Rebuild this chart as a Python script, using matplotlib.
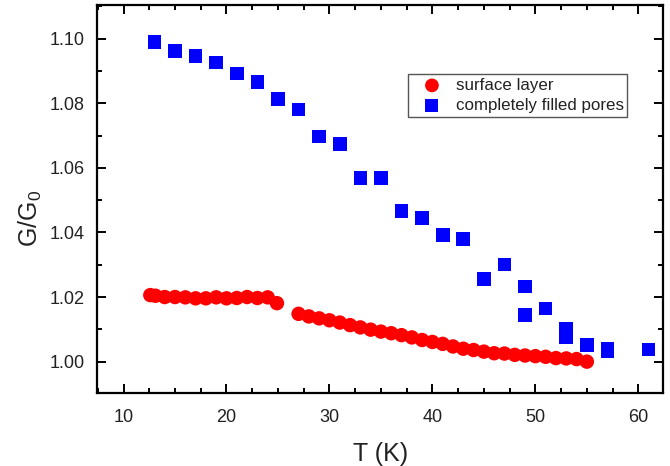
import numpy as np
import matplotlib
matplotlib.use("Agg")
import matplotlib.pyplot as plt
from matplotlib.ticker import MultipleLocator

plt.rcParams['font.family'] = ['Liberation Sans', 'DejaVu Sans']
plt.rcParams['mathtext.fontset'] = 'custom'
plt.rcParams['mathtext.rm'] = 'Liberation Sans'
plt.rcParams['mathtext.it'] = 'Liberation Sans'

# surface layer (red circles)
t_surface = [12.6, 13.1, 14, 15, 16, 17, 18, 19, 20, 21, 22, 23, 24, 24.9,
             27, 28, 29, 30, 31, 32, 33, 34, 35, 36, 37, 38, 39, 40, 41,
             42, 43, 44, 45, 46, 47, 48, 49, 50, 51, 52, 53, 54, 55]
g_surface = [1.0206, 1.0204, 1.0200, 1.0200, 1.0199, 1.0196, 1.0196, 1.0199,
             1.0196, 1.0197, 1.0200, 1.0197, 1.0199, 1.0181,
             1.0148, 1.0140, 1.0134, 1.0128, 1.0121, 1.0113, 1.0106, 1.0099,
             1.0093, 1.0088, 1.0082, 1.0075, 1.0067, 1.0061, 1.0055, 1.0047,
             1.0040, 1.0036, 1.0031, 1.0026, 1.0025, 1.0021, 1.0019, 1.0017,
             1.0015, 1.0011, 1.0010, 1.0008, 1.0000]

# completely filled pores (blue squares)
t_pores = [13, 15, 17, 19, 21, 23, 25, 27, 29, 31, 33, 35, 37, 39, 41, 43,
           45, 47, 49, 49, 51, 53, 53, 55, 57, 57, 61]
g_pores = [1.0990, 1.0962, 1.0946, 1.0926, 1.0892, 1.0865, 1.0813, 1.0780,
           1.0697, 1.0673, 1.0569, 1.0569, 1.0467, 1.0444, 1.0392, 1.0380,
           1.0255, 1.0301, 1.0232, 1.0144, 1.0164, 1.0101, 1.0077, 1.0052,
           1.0039, 1.0033, 1.0038]

fig = plt.figure(figsize=(6.7, 4.66), dpi=100)
ax = fig.add_axes([0.1452, 0.156, 0.8444, 0.8333])

ax.scatter(t_surface, g_surface, s=108, marker='o', color='#ff0000',
           edgecolors='none', label='surface layer', zorder=3)
ax.scatter(t_pores, g_pores, s=96, marker='s', color='#0000ff',
           edgecolors='none', label='completely filled pores', zorder=2)

ax.set_xlim(7.45, 62.4)
ax.set_ylim(0.9902, 1.1104)
ax.xaxis.set_major_locator(MultipleLocator(10))
ax.xaxis.set_minor_locator(MultipleLocator(2.5))
ax.yaxis.set_major_locator(MultipleLocator(0.02))
ax.yaxis.set_minor_locator(MultipleLocator(0.01))
ax.yaxis.set_major_formatter(matplotlib.ticker.FormatStrFormatter('%.2f'))

for sp in ax.spines.values():
    sp.set_linewidth(1.6)
ax.tick_params(which='both', direction='in', top=True, right=True,
               width=1.4, labelsize=13, colors='black', labelcolor='#222222')
ax.tick_params(which='major', length=6.5, pad=9)
ax.tick_params(which='minor', length=3.6)
ax.tick_params(axis='x', which='major', pad=11)

ax.set_xlabel('T (K)', fontsize=18, labelpad=12, color='#222222')
ax.set_ylabel('$\\mathregular{G/G_0}$', fontsize=18, color='#222222')
ax.yaxis.set_label_coords(-0.095, 0.45)

ax.legend(loc='upper left', bbox_to_anchor=(0.549, 0.822),
          fontsize=12.2, frameon=True, fancybox=False, edgecolor='#555555',
          framealpha=1, borderpad=0.22, handlelength=2.4, handletextpad=0.2,
          labelspacing=0.32, borderaxespad=0, markerscale=0.95,
          labelcolor='#222222')

fig.savefig('out.png', dpi=100)
